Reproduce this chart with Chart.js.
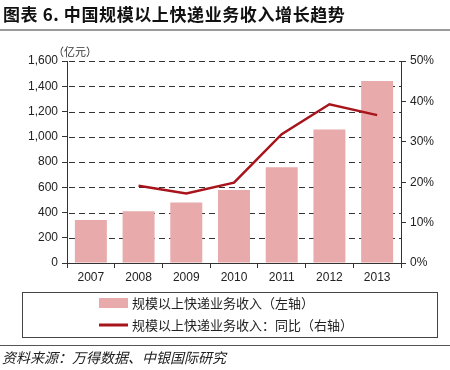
<!DOCTYPE html>
<html>
<head>
<meta charset="utf-8">
<script src="https://cdn.jsdelivr.net/npm/chart.js@4.4.0/dist/chart.umd.min.js"></script>
<style>
html,body{margin:0;padding:0;background:#fff;}
#wrap{position:relative;width:450px;height:370px;}
</style>
</head>
<body>
<div id="wrap"><canvas id="c" width="450" height="370"></canvas></div>
<script>
const categories = ['2007','2008','2009','2010','2011','2012','2013'];
const revenue = [340, 410, 480, 578, 758, 1058, 1442];
const growth = [null, 19.1, 17.2, 19.9, 31.9, 39.3, 36.6];
const leftTicks = [0, 200, 400, 600, 800, 1000, 1200, 1400, 1600];
const rightTicks = [0, 10, 20, 30, 40, 50];
const seriesNames = ['规模以上快递业务收入（左轴）', '规模以上快递业务收入：同比（右轴）'];
const titleText = '图表 6. 中国规模以上快递业务收入增长趋势';
const sourceText = '资料来源：万得数据、中银国际研究';
const unitText = '（亿元）';

const barColor = '#E8AAAA';
const lineColor = '#A8141B';
const cjk = '"Noto Sans CJK SC", sans-serif';

const dashedGrid = {
  id: 'dashedGrid',
  beforeDatasetsDraw(chart) {
    const ctx = chart.ctx, ys = chart.scales.y, area = chart.chartArea;
    ctx.save();
    ctx.strokeStyle = '#333';
    ctx.lineWidth = 1;
    ctx.setLineDash([6, 4]);
    ctx.lineDashOffset = 0;
    leftTicks.forEach(v => {
      if (v === 0) return;
      const py = Math.round(ys.getPixelForValue(v)) + 0.5;
      ctx.beginPath();
      ctx.moveTo(area.left + 2, py);
      ctx.lineTo(area.right, py);
      ctx.stroke();
    });
    ctx.restore();
  }
};

const decor = {
  id: 'decor',
  afterDraw(chart) {
    const ctx = chart.ctx;
    ctx.save();
    ctx.setLineDash([]);
    // title
    ctx.fillStyle = '#111';
    ctx.font = 'bold 17px ' + cjk;
    ctx.textBaseline = 'middle';
    ctx.textAlign = 'left';
    ctx.letterSpacing = '0.6px';
    ctx.fillText(titleText, 3, 15);
    ctx.letterSpacing = '0px';
    ctx.fillStyle = '#9a9a9a';
    ctx.fillRect(0, 29, 450, 2);
    // unit
    ctx.fillStyle = '#333';
    ctx.font = '11px ' + cjk;
    ctx.fillText(unitText, 53, 52);
    // legend box
    ctx.strokeStyle = '#444';
    ctx.lineWidth = 1;
    ctx.strokeRect(22.5, 292.5, 415, 45);
    ctx.fillStyle = barColor;
    ctx.fillRect(99, 298, 29, 10);
    ctx.strokeStyle = lineColor;
    ctx.lineWidth = 3;
    ctx.beginPath(); ctx.moveTo(99, 325); ctx.lineTo(128, 325); ctx.stroke();
    ctx.fillStyle = '#222';
    ctx.font = '13px ' + cjk;
    ctx.fillText(seriesNames[0], 132, 303);
    ctx.fillText(seriesNames[1], 132, 325);
    // footer
    ctx.fillStyle = '#555';
    ctx.fillRect(0, 345, 450, 1);
    ctx.fillStyle = '#222';
    ctx.font = 'italic 14px ' + cjk;
    ctx.fillText(sourceText, 2, 358);
    ctx.restore();
  }
};

new Chart(document.getElementById('c'), {
  type: 'bar',
  data: {
    labels: categories,
    datasets: [
      {
        type: 'line', label: seriesNames[1], data: growth, yAxisID: 'y1',
        borderColor: lineColor, backgroundColor: lineColor, borderWidth: 2.5,
        pointRadius: 0, tension: 0, order: 0, spanGaps: false
      },
      {
        type: 'bar', label: seriesNames[0], data: revenue, yAxisID: 'y',
        backgroundColor: barColor, borderWidth: 0,
        categoryPercentage: 1, barPercentage: 0.67, order: 1
      }
    ]
  },
  plugins: [dashedGrid, decor],
  options: {
    responsive: false,
    animation: false,
    events: [],
    layout: { padding: { top: 61, left: 0, right: 0, bottom: 0 } },
    plugins: { legend: { display: false }, tooltip: { enabled: false } },
    scales: {
      x: {
        offset: true,
        grid: { display: true, offset: true, drawOnChartArea: false, drawTicks: true, tickLength: 5, color: '#333' },
        border: { display: true, color: '#333', width: 1 },
        ticks: { color: '#222', font: { family: 'Liberation Sans, Arial', size: 12 }, padding: 2, maxRotation: 0 },
        afterFit(s) { s.height = 107; }
      },
      y: {
        position: 'left', min: 0, max: 1600,
        afterBuildTicks(s) { s.ticks = leftTicks.map(v => ({ value: v })); },
        grid: { drawOnChartArea: false, tickLength: 5, color: '#333', drawTicks: true },
        border: { display: true, color: '#333', width: 1 },
        ticks: {
          color: '#222', font: { family: 'Liberation Sans, Arial', size: 12 }, padding: 4,
          callback: v => v.toLocaleString('en-US')
        },
        afterFit(s) { s.width = 67; }
      },
      y1: {
        position: 'right', min: 0, max: 50,
        afterBuildTicks(s) { s.ticks = rightTicks.map(v => ({ value: v })); },
        grid: { drawOnChartArea: false, drawTicks: true, tickLength: 5, color: '#333' },
        border: { display: true, color: '#333', width: 1 },
        ticks: {
          color: '#222', font: { family: 'Liberation Sans, Arial', size: 12 }, padding: 4,
          callback: v => v + '%'
        },
        afterFit(s) { s.width = 49; }
      }
    }
  }
});
</script>
</body>
</html>
